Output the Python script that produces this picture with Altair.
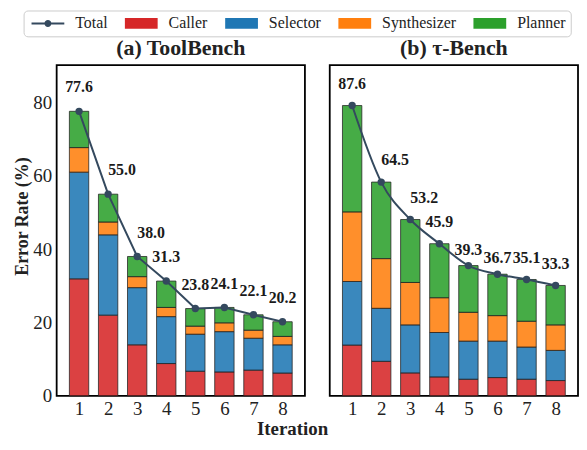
import altair as alt
import pandas as pd

FONT = "Liberation Serif"

iterations = [1, 2, 3, 4, 5, 6, 7, 8]
series = ["Caller", "Selector", "Synthesizer", "Planner"]
legend_items = ["Total", "Caller", "Selector", "Synthesizer", "Planner"]
legend_colors = ["#34495e", "#d62728", "#1f77b4", "#ff7f0e", "#2ca02c"]

# (a) ToolBench
tb_caller = [31.9, 22.0, 13.9, 8.8, 6.7, 6.5, 7.0, 6.2]
tb_selector = [29.1, 21.9, 15.6, 12.8, 10.1, 11.0, 8.7, 7.7]
tb_synth = [6.7, 3.5, 3.0, 2.5, 2.2, 2.4, 2.2, 2.3]
tb_planner = [9.9, 7.6, 5.5, 7.2, 4.8, 4.2, 4.2, 4.0]
tb_total = [77.6, 55.0, 38.0, 31.3, 23.8, 24.1, 22.1, 20.2]

# (b) tau-Bench
tau_caller = [15.3, 10.4, 6.9, 5.7, 5.0, 5.5, 5.0, 4.6]
tau_selector = [19.2, 16.0, 14.5, 13.4, 11.5, 11.0, 9.7, 9.1]
tau_synth = [21.0, 15.0, 12.8, 10.5, 8.7, 7.7, 7.8, 7.7]
tau_planner = [32.1, 23.1, 19.0, 16.3, 14.1, 12.5, 12.6, 11.9]
tau_total = [87.6, 64.5, 53.2, 45.9, 39.3, 36.7, 35.1, 33.3]

y_ticks = [0, 20, 40, 60, 80]

rect_path = "M-1,-1.1L5.6,-1.1L5.6,1.1L-1,1.1Z"
total_path = ("M-1,-0.2L5.6,-0.2L5.6,0.2L-1,0.2Z"
              "M1.6,0A0.7,0.7,0,1,1,3.0,0A0.7,0.7,0,1,1,1.6,0Z")
legend_shapes = [total_path, rect_path, rect_path, rect_path, rect_path]

color_scale = alt.Scale(domain=legend_items, range=legend_colors)
shape_scale = alt.Scale(domain=legend_items, range=legend_shapes)

PLOT_W = 250
PLOT_H = 333

leg_kw = dict(
    title=None, orient="none", legendX=-33.3, legendY=-55,
    direction="horizontal", labelFont=FONT, labelFontSize=16,
    labelColor="#222", labelOffset=31, columnPadding=14,
    symbolSize=100, symbolStrokeColor="#333", symbolStrokeWidth=0.8,
    symbolOpacity=1, padding=5, strokeColor="#cccccc", cornerRadius=4,
    fillColor="white",
)


def long_df(parts):
    rows = []
    for k, (name, vals) in enumerate(zip(series, parts)):
        for it, v in zip(iterations, vals):
            rows.append({"iteration": it, "series": name, "value": v, "order": k})
    return pd.DataFrame(rows)


def panel(parts, totals, title, ymax, left, interp, label_dy, low_iters, low_dy):
    bars_df = long_df(parts)
    tot_df = pd.DataFrame({"iteration": iterations, "total": totals,
                           "series": ["Total"] * len(iterations)})
    xs = alt.Scale(domain=[0.4, 8.6], nice=False, zero=False)
    ys = alt.Scale(domain=[0, ymax], nice=False)

    x_axis = alt.Axis(values=iterations, format="d", grid=False, domain=False,
                      tickSize=0, labelPadding=4, labelFont=FONT, labelFontSize=19,
                      labelColor="#222", labelAngle=0,
                      titleFont=FONT, titleFontSize=19, titleFontWeight="bold",
                      titleColor="#222", titleX=237, titleY=33,
                      titleBaseline="middle", titleAlign="center")
    y_axis = alt.Axis(values=y_ticks, grid=False, domain=False, tickSize=0,
                      labelPadding=5, labelFont=FONT, labelFontSize=19,
                      labelColor="#222", labels=left,
                      titleFont=FONT, titleFontSize=18,
                      titleFontWeight="bold", titleColor="#222",
                      titleX=-34, titleY=152, titleAngle=270,
                      titleBaseline="middle", titleAlign="center")
    x_title = "Iteration" if left else ""
    y_title = "Error Rate (%)" if left else ""

    X = alt.X("iteration:Q", scale=xs, axis=x_axis, title=x_title)
    Y = alt.Y("total:Q", scale=ys, axis=y_axis, title=y_title)

    layers = []
    if left:
        leg = alt.Chart(tot_df).mark_point(filled=True, opacity=0).encode(
            x=X, y=Y,
            color=alt.Color("series:N", scale=color_scale, legend=alt.Legend(**leg_kw)),
            shape=alt.Shape("series:N", scale=shape_scale, legend=alt.Legend(**leg_kw)),
        )
        layers.append(leg)

    bars = alt.Chart(bars_df).mark_bar(
        size=19.5, stroke="#222", strokeWidth=0.9, fillOpacity=0.88, strokeOpacity=0.85
    ).encode(
        x=X,
        y=alt.Y("value:Q", stack="zero", scale=ys, axis=y_axis, title=y_title),
        color=alt.Color("series:N", scale=color_scale, legend=alt.Legend(**leg_kw)),
        order=alt.Order("order:Q"),
    )

    line = alt.Chart(tot_df).mark_line(
        color="#34495e", strokeWidth=2, interpolate=interp
    ).encode(x=X, y=Y)
    pts = alt.Chart(tot_df).mark_point(
        filled=True, color="#34495e", size=55, opacity=1
    ).encode(x=X, y=Y)

    txt_kw = dict(font=FONT, fontSize=16, fontWeight="bold", color="#1a1a1a")
    shifted = "datum.iteration == 2 || datum.iteration == 3"
    low = " || ".join(f"datum.iteration == {i}" for i in low_iters) if low_iters else "false"
    base_txt = alt.Chart(tot_df).encode(
        x=X, y=Y, text=alt.Text("total:Q", format=".1f"))
    t1 = base_txt.transform_filter(f"!({shifted}) && !({low})").mark_text(dy=label_dy, **txt_kw)
    t2 = base_txt.transform_filter(shifted).mark_text(dy=label_dy, dx=14, **txt_kw)
    layers += [bars, line, pts, t1, t2]
    if low_iters:
        t3 = base_txt.transform_filter(low).mark_text(dy=low_dy, **txt_kw)
        layers.append(t3)

    return alt.layer(*layers).properties(
        width=PLOT_W, height=PLOT_H,
        title=alt.TitleParams(title, font=FONT, fontSize=22, fontWeight="bold",
                              color="#222", offset=5),
    )


left = panel([tb_caller, tb_selector, tb_synth, tb_planner], tb_total,
             "(a) ToolBench", 90.2, True, "linear", -24, [], -24)
right = panel([tau_caller, tau_selector, tau_synth, tau_planner], tau_total,
              "(b) τ-Bench", 99.8, False, "monotone", -22, [5, 6], -16)

chart = alt.hconcat(left, right, spacing=25, bounds="flush").properties(
    padding={"left": 5, "top": 0, "right": 0, "bottom": 0}
).configure(font=FONT).configure_legend(labelFont=FONT).configure_axis(
    labelFont=FONT, titleFont=FONT
).configure_view(stroke="black", strokeWidth=1.8)

chart.save("out.html", embed_options={"renderer": "svg", "actions": False})
